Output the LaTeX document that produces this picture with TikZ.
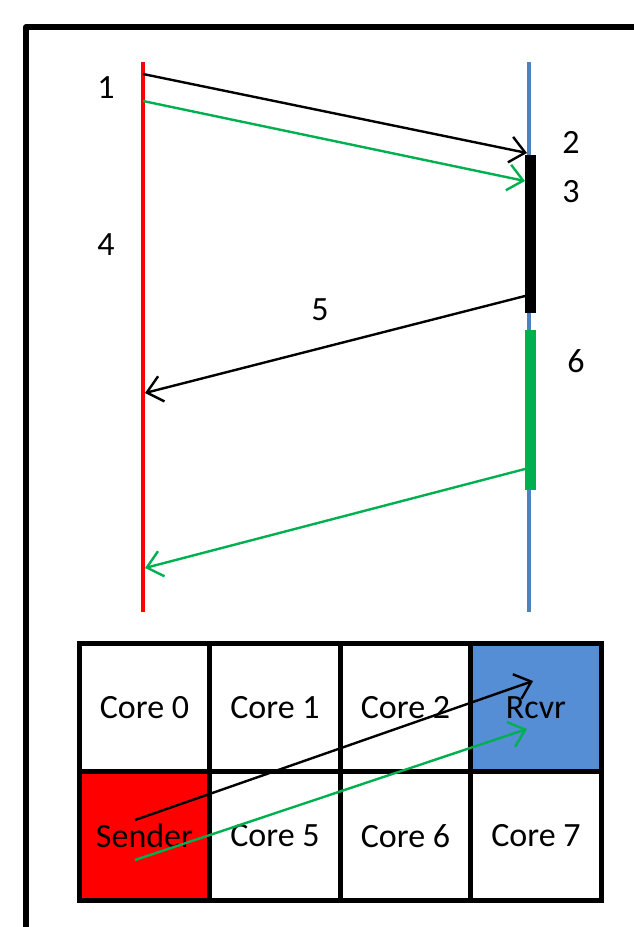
\documentclass[tikz,border=0pt]{standalone}
\usepackage{fontspec}
\setmainfont{Carlito}
\usetikzlibrary{arrows.meta}
\definecolor{sgreen}{HTML}{00B050}
\definecolor{lblue}{HTML}{4F81BD}
\definecolor{cblue}{HTML}{558ED5}

\begin{document}
\begin{tikzpicture}[x=.5pt,y=-.5pt,>={Straight Barb[length=7.5pt,width=13pt,line width=1.2pt]},
 msg/.style={->,line width=1.2pt},
 cell/.style={draw,line width=2.4pt,minimum width=65.1pt,minimum height=64.2pt,inner sep=0pt},
 lbl/.style={inner sep=0pt}]
 \useasboundingbox (0,0) rectangle (633,927);
 \fontsize{17}{20}\selectfont
 \draw[line width=2.6pt,line join=round] (26,940)--(26,27)--(645,27);
 % lifelines
 \coordinate (st) at (143,62); \coordinate (sb) at (143,612);
 \coordinate (rt) at (529,62); \coordinate (rb) at (529,612);
 \draw[red,line width=2.2pt] (st)--(sb);
 \draw[lblue,line width=1.6pt] (rt)--(rb);
 \coordinate (a1) at (143,74);  \coordinate (a2) at (527,153);
 \coordinate (b1) at (143,101); \coordinate (b2) at (525,181);
 \coordinate (a3) at (525,296); \coordinate (a4) at (145,393);
 \coordinate (b3) at (525,469); \coordinate (b4) at (145,568);
 \draw[msg] (a1)--(a2);
 \draw[msg,sgreen] (b1)--(b2);
 \draw[msg] (a3)--(a4);
 \draw[msg,sgreen] (b3)--(b4);
 \coordinate (bt) at (530,155); \coordinate (bb) at (530,313);
 \coordinate (gt) at (530,330); \coordinate (gb) at (530,490);
 \draw[line width=5.5pt] (bt)--(bb);
 \draw[sgreen,line width=5.5pt] (gt)--(gb);
 \node[lbl] (n1) at (106,88) {1};
 \node[lbl] (n2) at (571,142) {2};
 \node[lbl] (n3) at (571,192) {3};
 \node[lbl] (n4) at (106,245) {4};
 \node[lbl] (n5) at (320,310) {5};
 \node[lbl] (n6) at (576,361) {6};
 % cores
 \node[cell] (c0) at (144.5,707.5) {Core 0};
 \node[cell] (c1) at (275,707.5) {Core 1};
 \node[cell] (c2) at (405.5,707.5) {Core 2};
 \node[cell,fill=cblue] (c3) at (536,707.5) {Rcvr};
 \node[cell,fill=red] (c4) at (144.5,836) {Sender};
 \node[cell] (c5) at (275,836) {Core 5};
 \node[cell] (c6) at (405.5,836) {Core 6};
 \node[cell] (c7) at (536,836) {Core 7};
 \coordinate (s1) at (135,820); \coordinate (r1) at (533,681);
 \coordinate (s2) at (135,860); \coordinate (r2) at (527,729);
 \draw[msg] (s1)--(r1);
 \draw[msg,sgreen] (s2)--(r2);
\end{tikzpicture}
\end{document}
